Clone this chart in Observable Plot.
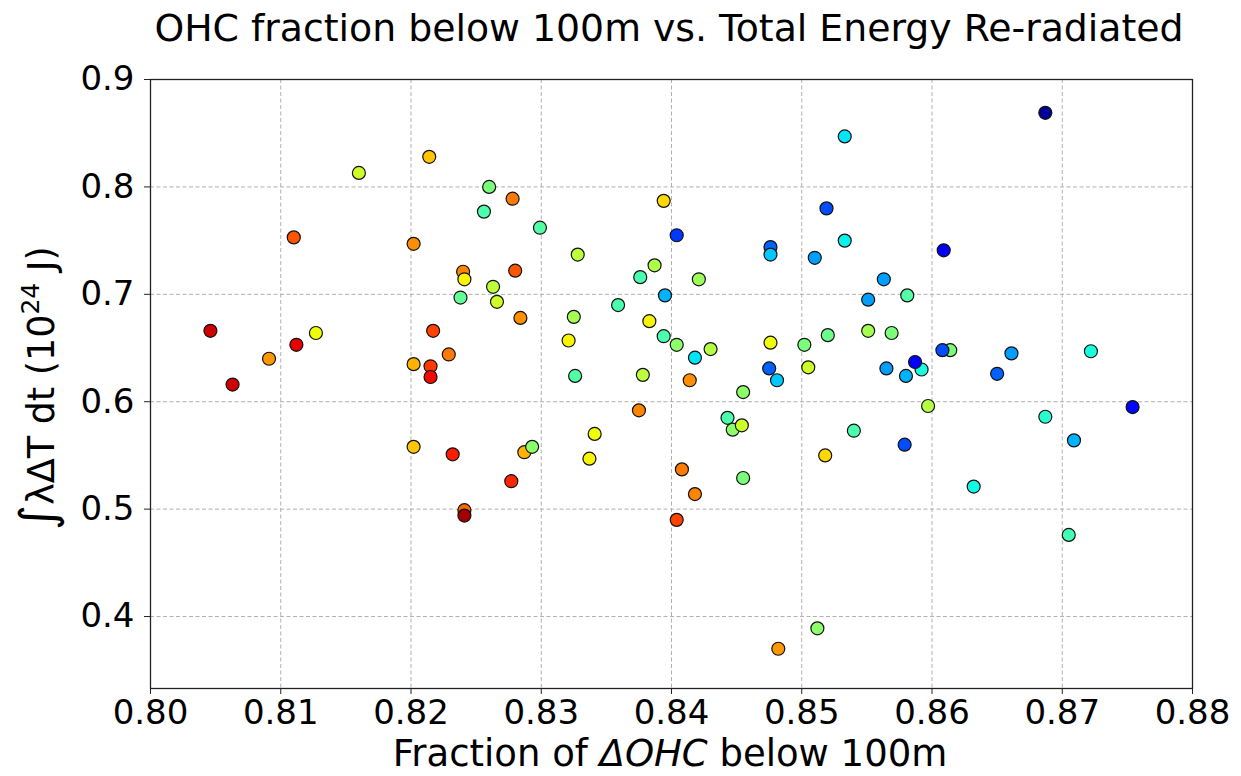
<!DOCTYPE html>
<html><head><meta charset="utf-8">
<script src="https://cdn.jsdelivr.net/npm/d3@7"></script>
<script src="https://cdn.jsdelivr.net/npm/@observablehq/plot@0.6"></script>
<style>
body{margin:0;background:#fff;}
</style>
</head><body>
<div id="chart"></div>
<script>
const xs = [0.8046,0.8063,0.8091,0.8110,0.8112,0.8127,0.8160,0.8202,0.8202,0.8202,
0.8214,0.8215,0.8215,0.8217,0.8229,0.8232,0.8238,0.8240,0.8241,0.8241,
0.8241,0.8256,0.8260,0.8263,0.8266,0.8277,0.8278,0.8280,0.8284,0.8287,
0.8293,0.8299,0.8321,0.8325,0.8326,0.8328,0.8337,0.8341,0.8359,0.8375,
0.8376,0.8378,0.8383,0.8387,0.8394,0.8394,0.8395,0.8404,0.8404,0.8404,
0.8408,0.8414,0.8418,0.8418,0.8421,0.8430,0.8443,0.8447,0.8454,0.8455,
0.8455,0.8475,0.8476,0.8476,0.8476,0.8481,0.8482,0.8502,0.8505,0.8510,
0.8512,0.8518,0.8519,0.8520,0.8533,0.8533,0.8540,0.8551,0.8551,0.8563,
0.8565,0.8569,0.8579,0.8580,0.8581,0.8592,0.8587,0.8597,0.8614,0.8609,
0.8608,0.8632,0.8650,0.8661,0.8687,0.8687,0.8705,0.8709,0.8722,0.8754];
const ys = [0.666,0.616,0.640,0.753,0.653,0.664,0.813,0.747,0.635,0.558,
0.828,0.633,0.623,0.666,0.644,0.551,0.697,0.721,0.714,0.499,
0.494,0.777,0.800,0.707,0.693,0.526,0.789,0.722,0.678,0.553,
0.558,0.762,0.657,0.679,0.624,0.737,0.547,0.570,0.690,0.592,
0.716,0.625,0.675,0.727,0.787,0.661,0.699,0.755,0.653,0.490,
0.537,0.620,0.641,0.514,0.714,0.649,0.585,0.574,0.578,0.609,
0.529,0.631,0.744,0.737,0.655,0.620,0.370,0.653,0.632,0.734,
0.389,0.550,0.780,0.662,0.847,0.750,0.573,0.695,0.666,0.714,
0.631,0.664,0.560,0.624,0.699,0.630,0.637,0.596,0.648,0.741,
0.648,0.521,0.626,0.645,0.869,0.586,0.476,0.564,0.647,0.595];
const cs = [0.93,0.93,0.75,0.82,0.91,0.64,0.60,0.76,0.72,0.70,
0.70,0.85,0.90,0.84,0.78,0.88,0.47,0.77,0.65,0.80,
0.97,0.44,0.50,0.58,0.60,0.87,0.78,0.82,0.76,0.72,
0.52,0.45,0.65,0.55,0.45,0.58,0.65,0.64,0.44,0.77,
0.44,0.58,0.65,0.56,0.68,0.44,0.30,0.18,0.52,0.84,
0.78,0.76,0.35,0.77,0.54,0.57,0.44,0.52,0.60,0.52,
0.50,0.22,0.22,0.32,0.64,0.32,0.75,0.50,0.60,0.28,
0.52,0.68,0.20,0.48,0.35,0.36,0.44,0.28,0.55,0.28,
0.28,0.50,0.20,0.30,0.45,0.38,0.12,0.57,0.50,0.10,
0.20,0.37,0.22,0.28,0.02,0.40,0.43,0.30,0.38,0.13];
const xTicks = [0.80,0.81,0.82,0.83,0.84,0.85,0.86,0.87,0.88];
const yTicks = [0.4,0.5,0.6,0.7,0.8,0.9];

const data = xs.map((x, i) => ({x, y: ys[i], c: cs[i]}));

// matplotlib "jet" segment data
const jetSeg = {
  r: [[0,0],[0.35,0],[0.66,1],[0.89,1],[1,0.5]],
  g: [[0,0],[0.125,0],[0.375,1],[0.64,1],[0.91,0],[1,0]],
  b: [[0,0.5],[0.11,1],[0.34,1],[0.65,0],[1,0]]
};
function seg(pts, t) {
  for (let i = 1; i < pts.length; i++) {
    if (t <= pts[i][0]) {
      const [x0, y0] = pts[i-1], [x1, y1] = pts[i];
      return y0 + (y1 - y0) * (t - x0) / (x1 - x0);
    }
  }
  return pts[pts.length-1][1];
}
function jet(t) {
  t = Math.max(0, Math.min(1, t));
  const r = Math.round(255 * seg(jetSeg.r, t));
  const g = Math.round(255 * seg(jetSeg.g, t));
  const b = Math.round(255 * seg(jetSeg.b, t));
  return `rgb(${r},${g},${b})`;
}

const gridStyle = {stroke: "#b0b0b0", strokeOpacity: 1, strokeDasharray: "4,2.5", strokeWidth: 1};

const chart = Plot.plot({
  width: 1241, height: 776,
  marginLeft: 150, marginRight: 49, marginTop: 79, marginBottom: 88,
  style: {fontFamily: "DejaVu Sans", fontSize: "34px", background: "#fff", color: "#000"},
  x: {domain: [0.80, 0.88]},
  y: {domain: [0.333, 0.9]},
  color: {type: "linear", domain: [0, 1], interpolate: jet},
  marks: [
    Plot.gridX(xTicks, gridStyle),
    Plot.gridY(yTicks, gridStyle),
    Plot.axisX(xTicks, {tickFormat: d3.format(".2f"), tickSize: 6, tickPadding: 5, fontSize: 34, label: null, stroke: "#222"}),
    Plot.axisY(yTicks, {tickFormat: d3.format(".1f"), tickSize: 6, tickPadding: 10, fontSize: 34, label: null, stroke: "#222"}),
    Plot.frame({stroke: "#222", strokeWidth: 1.3}),
    Plot.dot(data, {x: "x", y: "y", fill: "c", r: 6.5, stroke: "#111", strokeWidth: 1.2})
  ]
});
document.getElementById("chart").appendChild(chart);

const svg = d3.select(chart);
svg.append("text")
  .attr("x", 669).attr("y", 41)
  .attr("text-anchor", "middle")
  .style("font-family", "DejaVu Sans").style("font-size", "37.8px").attr("fill", "#000")
  .text("OHC fraction below 100m vs. Total Energy Re-radiated");

const xl = svg.append("text")
  .attr("x", 670).attr("y", 766)
  .attr("text-anchor", "middle")
  .style("font-family", "DejaVu Sans").style("font-size", "37px").attr("fill", "#000");
xl.append("tspan").text("Fraction of ");
xl.append("tspan").style("font-style", "italic").text("ΔOHC");
xl.append("tspan").text(" below 100m");

const yl = svg.append("text")
  .attr("transform", "translate(54,388) rotate(-90)")
  .attr("text-anchor", "middle")
  .style("font-family", "DejaVu Sans").style("font-size", "36.5px").attr("fill", "#000");
yl.append("tspan").style("font-size", "48px").text("∫");
yl.append("tspan").text("λΔT dt (10");
yl.append("tspan").style("font-size", "25px").attr("dy", -15).text("24");
yl.append("tspan").attr("dy", 15).text(" J)");
</script>
</body></html>
